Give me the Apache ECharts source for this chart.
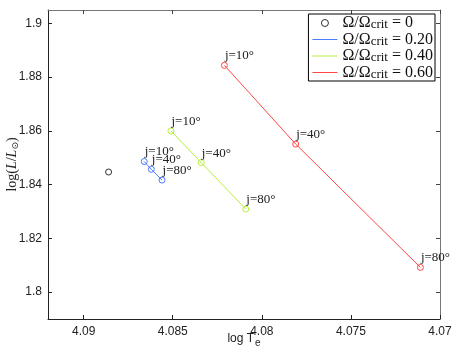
<!DOCTYPE html>
<html>
<head>
<meta charset="utf-8">
<script src="https://cdn.jsdelivr.net/npm/echarts@6/dist/echarts.min.js"></script>
<style>
  html, body { margin: 0; padding: 0; background: #fff; }
  #chart { width: 457px; height: 354px; }
</style>
</head>
<body>
<div id="chart"></div>
<script>
// data: log Te, log(L/Lsun)
const omegaNames = ['0', '0.20', '0.40', '0.60']
const omegaColors = ['#000000', '#4f7cff', '#b4f03c', '#ff4646']
const jLabels = ['j=10°', 'j=40°', 'j=80°']

const pointOmega0 = [[4.0886, 1.8447]]
const teOmega20 = [4.0866, 4.0862, 4.0856]
const lumOmega20 = [1.8486, 1.8457, 1.8417]
const teOmega40 = [4.0851, 4.0834, 4.0809]
const lumOmega40 = [1.8600, 1.8482, 1.8309]
const teOmega60 = [4.0821, 4.0781, 4.0711]
const lumOmega60 = [1.8844, 1.8551, 1.8092]

const xTicks = [4.07, 4.075, 4.08, 4.085, 4.09]
const yTicks = [1.8, 1.82, 1.84, 1.86, 1.88, 1.9]

const serif = 'Liberation Serif'
const sans = 'Liberation Sans'

function pairs(xs, ys) {
  return xs.map((x, i) => [x, ys[i]])
}

function legendName(i) {
  return 'Ω/Ω_crit = ' + omegaNames[i]
}

function trackSeries(i, xs, ys) {
  return {
    name: legendName(i),
    type: 'line',
    data: pairs(xs, ys),
    symbol: 'circle',
    symbolSize: 6,
    showAllSymbol: true,
    color: omegaColors[i],
    lineStyle: { width: 1, color: omegaColors[i] },
    itemStyle: { color: 'rgba(255,255,255,0)', borderColor: omegaColors[i], borderWidth: 1 },
    label: {
      show: true,
      position: [4, -6],
      align: 'left',
      verticalAlign: 'middle',
      fontFamily: serif,
      fontSize: 13,
      color: '#222',
      formatter: p => jLabels[p.dataIndex]
    },
    emphasis: { disabled: true },
    animation: false
  }
}

const chart = echarts.init(document.getElementById('chart'))

// thin line used as legend icon (keeps its aspect inside the 25x7 box)
const lineIcon = 'path://M0,0L25,0L25,1L0,1Z'

function lineLegendItem(i) {
  return {
    name: legendName(i),
    icon: lineIcon,
    itemStyle: { color: omegaColors[i], borderColor: omegaColors[i], borderWidth: 0 }
  }
}

chart.setOption({
  backgroundColor: '#fff',
  grid: { left: 48, right: 17, top: 10, bottom: 35, outerBoundsMode: 'none', containLabel: false },
  legend: {
    orient: 'vertical',
    right: 22,
    top: 14,
    padding: [1, 2, 0, 4],
    itemGap: 0,
    itemWidth: 25,
    itemHeight: 7,
    borderColor: '#000',
    borderWidth: 1,
    backgroundColor: '#fff',
    selectedMode: false,
    data: [
      { name: legendName(0), icon: 'circle', itemStyle: { color: 'rgba(255,255,255,0)', borderColor: '#000', borderWidth: 1 } },
      lineLegendItem(1),
      lineLegendItem(2),
      lineLegendItem(3)
    ],
    formatter: name => {
      const v = name.split('= ')[1]
      return '{t|Ω/Ω}{s|crit}{t| = ' + v + '}'
    },
    textStyle: {
      rich: {
        t: { fontFamily: serif, fontSize: 16, color: '#111', lineHeight: 17 },
        s: { fontFamily: serif, fontSize: 13, color: '#111', lineHeight: 7, verticalAlign: 'bottom' }
      }
    }
  },
  xAxis: [{
    type: 'value',
    inverse: true,
    min: 4.07,
    max: 4.092,
    name: '{a|log T}{b|e}',
    nameLocation: 'middle',
    nameGap: 10,
    nameMoveOverlap: false,
    nameTextStyle: {
      rich: {
        a: { fontFamily: sans, fontSize: 12, color: '#222' },
        b: { fontFamily: sans, fontSize: 10, color: '#222', padding: [9, 0, 0, 1] }
      }
    },
    axisLine: { show: true, onZero: false, lineStyle: { color: '#222', width: 1 } },
    axisTick: { show: true, inside: true, length: 4, customValues: xTicks, lineStyle: { color: '#222' } },
    axisLabel: {
      customValues: xTicks,
      fontFamily: sans,
      fontSize: 12,
      color: '#222',
      margin: 7,
      formatter: v => String(+v.toFixed(3))
    },
    splitLine: { show: false }
  }, {
    type: 'value',
    position: 'top',
    inverse: true,
    min: 4.07,
    max: 4.092,
    axisLine: { show: true, onZero: false, lineStyle: { color: '#777', width: 1 } },
    axisTick: { show: true, inside: true, length: 4, customValues: xTicks, lineStyle: { color: '#444' } },
    axisLabel: { show: false },
    splitLine: { show: false }
  }],
  yAxis: [{
    type: 'value',
    min: 1.79,
    max: 1.905,
    name: '{n|log(}{i|L}{n|/}{i|L}{s|⊙}{n|)}',
    nameLocation: 'middle',
    nameRotate: 90,
    nameGap: 28,
    nameMoveOverlap: false,
    nameTextStyle: {
      rich: {
        n: { fontFamily: serif, fontSize: 14, color: '#222' },
        i: { fontFamily: serif, fontSize: 14, fontStyle: 'italic', color: '#222' },
        s: { fontFamily: 'DejaVu Sans', fontSize: 9, color: '#222', padding: [6, 0, 0, 0] }
      }
    },
    axisLine: { show: true, onZero: false, lineStyle: { color: '#222', width: 1 } },
    axisTick: { show: true, inside: true, length: 4, customValues: yTicks, lineStyle: { color: '#222' } },
    axisLabel: {
      customValues: yTicks,
      fontFamily: sans,
      fontSize: 12,
      color: '#222',
      margin: 6,
      formatter: v => String(+v.toFixed(2))
    },
    splitLine: { show: false }
  }, {
    type: 'value',
    position: 'right',
    min: 1.79,
    max: 1.905,
    axisLine: { show: true, onZero: false, lineStyle: { color: '#777', width: 1 } },
    axisTick: { show: true, inside: true, length: 4, customValues: yTicks, lineStyle: { color: '#444' } },
    axisLabel: { show: false },
    splitLine: { show: false }
  }],
  series: [
    {
      name: legendName(0),
      type: 'scatter',
      data: pointOmega0,
      symbol: 'circle',
      symbolSize: 6,
      itemStyle: { color: 'rgba(255,255,255,0)', borderColor: '#000', borderWidth: 1 },
      emphasis: { disabled: true },
      animation: false
    },
    trackSeries(1, teOmega20, lumOmega20),
    trackSeries(2, teOmega40, lumOmega40),
    trackSeries(3, teOmega60, lumOmega60)
  ]
})
</script>
</body>
</html>
